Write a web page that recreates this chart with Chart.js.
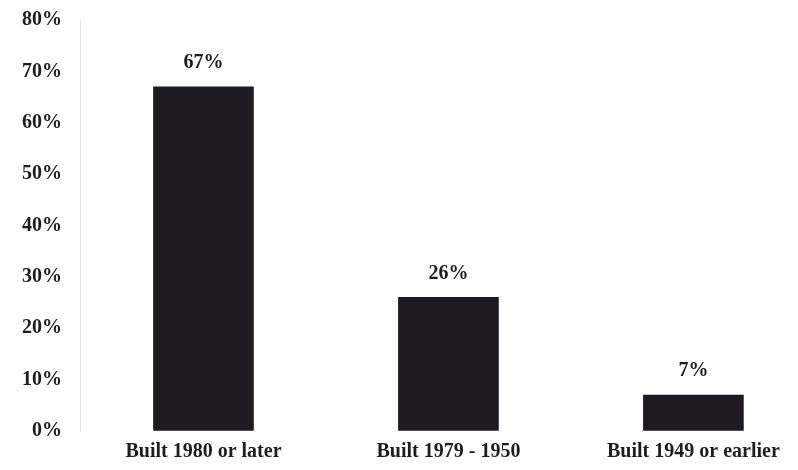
<!DOCTYPE html>
<html>
<head>
<meta charset="utf-8">
<script src="https://cdn.jsdelivr.net/npm/chart.js@4/dist/chart.umd.min.js"></script>
<style>
  html, body { margin: 0; padding: 0; background: #fff; }
  #wrap { width: 798px; height: 470px; position: relative; }
</style>
</head>
<body>
<div id="wrap"><canvas id="chart"></canvas></div>
<script>
const categories = ['Built 1980 or later', 'Built 1979 - 1950', 'Built 1949 or earlier'];
const shares = [67, 26, 7];
const yTicks = [0, 10, 20, 30, 40, 50, 60, 70, 80];

const serif = "'Liberation Serif', 'Times New Roman', serif";
const ink = '#1f1d22';

// percentage labels above each bar
const valueLabels = {
  id: 'valueLabels',
  afterDatasetsDraw(chart) {
    const ctx = chart.ctx;
    const meta = chart.getDatasetMeta(0);
    ctx.save();
    ctx.font = `bold 20px ${serif}`;
    ctx.fillStyle = ink;
    ctx.textAlign = 'center';
    ctx.textBaseline = 'middle';
    meta.data.forEach((bar, i) => {
      ctx.fillText(shares[i] + '%', bar.x, bar.y - 24);
    });
    ctx.restore();
  },
};

const data = {
  datasets: [{
    data: shares.map((v, i) => ({ x: i, y: v })),
    backgroundColor: '#1d1a22',
    barThickness: 100,
  }],
};

const options = {
  responsive: true,
  maintainAspectRatio: false,
  animation: false,
  layout: { padding: { top: 20, right: 0, bottom: 0, left: 0 } },
  plugins: {
    legend: { display: false },
    tooltip: { enabled: false },
  },
  scales: {
    x: {
      type: 'linear',
      offset: false,
      min: -0.504,
      max: 2.427,
      grid: { display: false, drawTicks: false },
      border: { display: false },
      afterFit(scale) { scale.height = 39; },
      afterBuildTicks(scale) {
        scale.ticks = categories.map((c, i) => ({ value: i }));
      },
      ticks: {
        autoSkip: false,
        maxRotation: 0,
        padding: 9,
        color: ink,
        font: { family: serif, size: 20, weight: 'bold' },
        callback: (value) => categories[value],
      },
    },
    y: {
      min: 0,
      max: 80,
      afterFit(scale) {
        scale.width = 80;
        scale.paddingTop = 0;
        scale.paddingBottom = 0;
      },
      afterBuildTicks(scale) {
        scale.ticks = yTicks.map(v => ({ value: v }));
      },
      grid: { color: 'transparent', drawTicks: false },
      border: { display: true, color: '#e6e6e6', width: 1 },
      ticks: {
        padding: 18,
        color: ink,
        font: { family: serif, size: 20, weight: 'bold' },
        callback: (value) => value + '%',
      },
    },
  },
};

new Chart(document.getElementById('chart'), {
  type: 'bar',
  data,
  options,
  plugins: [valueLabels],
});
</script>
</body>
</html>
